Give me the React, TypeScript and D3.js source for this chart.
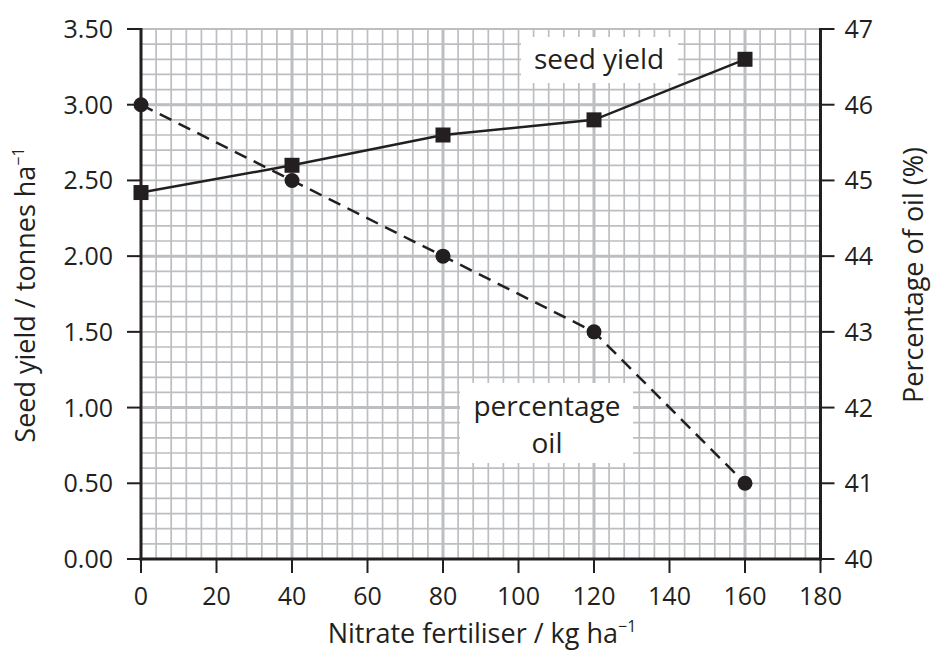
import React from "react";
import * as d3 from "d3";

// nitrate fertiliser (kg/ha)
const nitrate = [0, 40, 80, 120, 160];
// seed yield (tonnes/ha), left axis
const seedYield = [2.42, 2.6, 2.8, 2.9, 3.3];
// percentage of oil, right axis
const oilPercent = [46, 45, 44, 43, 41];

const xTicks = [0, 20, 40, 60, 80, 100, 120, 140, 160, 180];
const yTicks = [0, 0.5, 1, 1.5, 2, 2.5, 3, 3.5];
const y2Ticks = [40, 41, 42, 43, 44, 45, 46, 47];

const W = 931;
const H = 653;
const FONT = "'Open Sans', sans-serif";
const INK = "#231f20";
const GRID = "#bcbec1";

const App = () => {
  const x = d3.scaleLinear().domain([0, 180]).range([141, 820.5]);
  const y = d3.scaleLinear().domain([0, 3.5]).range([559, 29]);
  const y2 = d3.scaleLinear().domain([40, 47]).range([559, 29]);

  const minorX = d3.range(0, 181, 4);
  const minorY = d3.range(0, 36).map((d) => d / 10);
  const majorX = [40, 80, 120, 160];
  const majorY = [1, 2, 3];

  const yieldLine = d3
    .line<number>()
    .x((d, i) => x(nitrate[i]))
    .y((d) => y(d));
  const oilLine = d3
    .line<number>()
    .x((d, i) => x(nitrate[i]))
    .y((d) => y2(d));

  const [x0, x1] = x.range();
  const [yb, yt] = y.range();

  return (
    <svg
      width={W}
      height={H}
      style={{ position: "absolute", left: 0, top: 0, background: "#fff" }}
      fontFamily={FONT}
    >
      {/* grid */}
      <g stroke={GRID}>
        {minorX.map((v) => (
          <line key={"mx" + v} x1={x(v)} x2={x(v)} y1={yt} y2={yb} strokeWidth={1.7} />
        ))}
        {minorY.map((v) => (
          <line key={"my" + v} x1={x0} x2={x1} y1={y(v)} y2={y(v)} strokeWidth={1.7} />
        ))}
        {majorX.map((v) => (
          <line key={"Mx" + v} x1={x(v)} x2={x(v)} y1={yt} y2={yb} strokeWidth={3} />
        ))}
        {majorY.map((v) => (
          <line key={"My" + v} x1={x0} x2={x1} y1={y(v)} y2={y(v)} strokeWidth={3} />
        ))}
        <line x1={x0} x2={x1} y1={yt} y2={yt} strokeWidth={2} />
      </g>

      {/* label boxes */}
      <rect x={521} y={37} width={157} height={46} fill="#fff" />
      <text x={599} y={69} fontSize={28} fill={INK} textAnchor="middle">
        seed yield
      </text>
      <rect x={460} y={383} width={173} height={80} fill="#fff" />
      <text x={547} y={416} fontSize={28} fill={INK} textAnchor="middle">
        percentage
      </text>
      <text x={547} y={453} fontSize={28} fill={INK} textAnchor="middle">
        oil
      </text>

      {/* series */}
      <path d={oilLine(oilPercent) ?? ""} fill="none" stroke={INK} strokeWidth={2.5} strokeDasharray="13,8" />
      <path d={yieldLine(seedYield) ?? ""} fill="none" stroke={INK} strokeWidth={2.5} />
      {oilPercent.map((v, i) => (
        <circle key={"o" + i} cx={x(nitrate[i])} cy={y2(v)} r={7.5} fill={INK} />
      ))}
      {seedYield.map((v, i) => (
        <rect key={"s" + i} x={x(nitrate[i]) - 7.5} y={y(v) - 7.5} width={15} height={15} fill={INK} />
      ))}

      {/* axes */}
      <g stroke={INK}>
        <line x1={x0} x2={x0} y1={yt - 1} y2={yb + 1.5} strokeWidth={3} />
        <line x1={x1} x2={x1} y1={yt - 1} y2={yb + 1.5} strokeWidth={3} />
        <line x1={x0 - 1.5} x2={x1 + 1.5} y1={yb} y2={yb} strokeWidth={3} />
        {yTicks.map((v) => (
          <line key={"yt" + v} x1={x0 - 14} x2={x0} y1={y(v)} y2={y(v)} strokeWidth={2} />
        ))}
        {y2Ticks.map((v) => (
          <line key={"y2t" + v} x1={x1} x2={x1 + 14} y1={y2(v)} y2={y2(v)} strokeWidth={2} />
        ))}
        {xTicks.map((v) => (
          <line key={"xt" + v} x1={x(v)} x2={x(v)} y1={yb} y2={yb + 14} strokeWidth={2} />
        ))}
      </g>
      <g fontSize={25} fill={INK}>
        {yTicks.map((v) => (
          <text key={"yl" + v} x={x0 - 28} y={y(v) + 9} textAnchor="end">
            {d3.format(".2f")(v)}
          </text>
        ))}
        {y2Ticks.map((v) => (
          <text key={"y2l" + v} x={x1 + 24} y={y2(v) + 9} textAnchor="start">
            {v}
          </text>
        ))}
        {xTicks.map((v) => (
          <text key={"xl" + v} x={x(v)} y={605} textAnchor="middle">
            {v}
          </text>
        ))}
      </g>
      <g fontSize={27} fill={INK}>
        <text x={482} y={643} textAnchor="middle">
          Nitrate fertiliser / kg ha
          <tspan fontSize={16} dy={-11}>−1</tspan>
        </text>
        <text transform="translate(35,295) rotate(-90)" textAnchor="middle">
          Seed yield / tonnes ha
          <tspan fontSize={16} dy={-11}>−1</tspan>
        </text>
        <text transform="translate(923,275) rotate(-90)" textAnchor="middle">
          Percentage of oil (%)
        </text>
      </g>
    </svg>
  );
};

export default App;
